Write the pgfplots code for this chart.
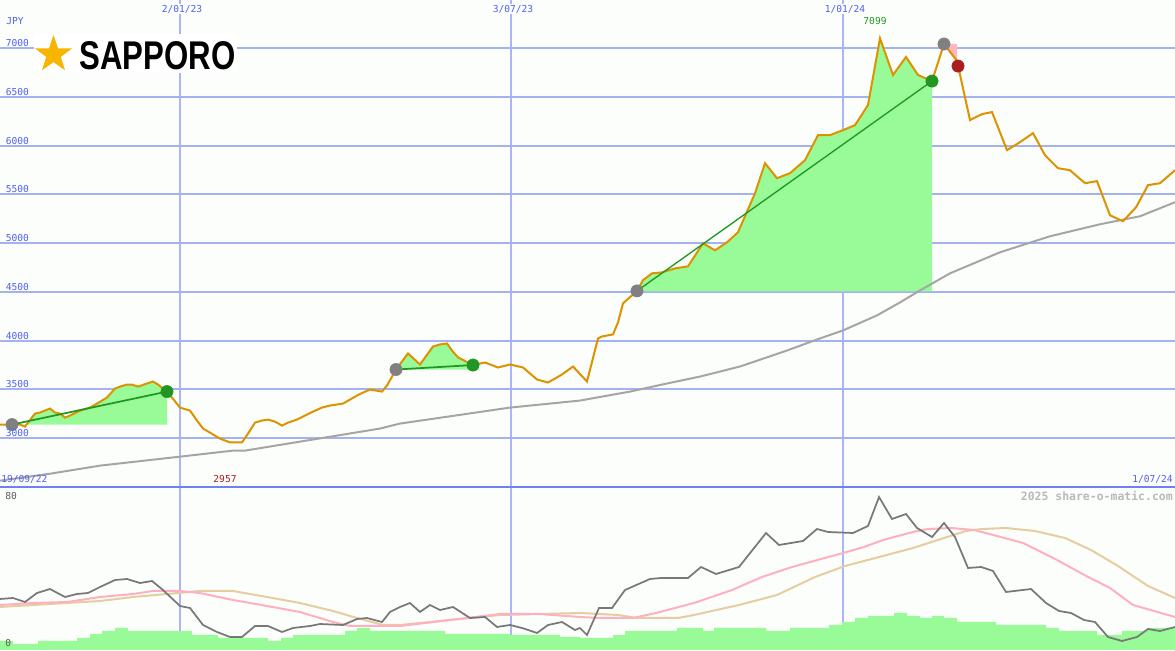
\documentclass[border=0pt]{standalone}
\usepackage{pgfplots}
\pgfplotsset{compat=1.18}
\usepackage{fontspec}
\usepackage{graphicx}
\usetikzlibrary{shapes.geometric}
\setmainfont{DejaVu Sans}
\newfontfamily\pix{DejaVu Sans Mono}
\newfontfamily\logofont{Liberation Sans}
\definecolor{pricec}{RGB}{221,146,0}
\definecolor{mac}{RGB}{165,165,165}
\definecolor{gainfill}{RGB}{152,251,152}
\definecolor{trendc}{RGB}{34,150,34}
\definecolor{dotgrey}{RGB}{128,128,128}
\definecolor{dotgreen}{RGB}{34,150,34}
\definecolor{dotred}{RGB}{170,30,30}
\definecolor{lossfill}{RGB}{255,182,193}
\definecolor{hgrid}{RGB}{165,178,240}
\definecolor{vgrid}{RGB}{170,182,248}
\definecolor{sepc}{RGB}{112,128,240}
\definecolor{labblue}{RGB}{80,96,240}
\definecolor{oscgrey}{RGB}{120,120,120}
\definecolor{oscpink}{RGB}{255,176,192}
\definecolor{osctan}{RGB}{230,205,160}
\definecolor{bgc}{RGB}{252,254,252}
\definecolor{gold}{RGB}{247,181,0}
\newcommand{\tf}{\pix\fontsize{7.2}{8}\selectfont}
\begin{document}
\begin{tikzpicture}
% ---------------- upper price panel ----------------
\begin{axis}[
  at={(0pt,122.25pt)}, anchor=south west, scale only axis,
  width=881.25pt, height=365.25pt,
  xmin=0, xmax=1175, ymin=2500, ymax=7492,
  axis line style={draw=none},
  axis background/.style={fill=bgc},
  xtick={180,511,843}, ytick={3000,3500,...,7000},
  xticklabels={}, yticklabels={},
  tick style={draw=none},
  grid=major,
  x grid style={vgrid, line width=1pt},
  y grid style={hgrid, line width=1.5pt},
]
% gain / loss areas
\addplot[fill=gainfill, draw=none] coordinates {(12,3140)(20,3140)(25,3119)(35,3253)(40,3263)(50,3304)(55,3263)(60,3253)(65,3211)(70,3232)(80,3283)(90,3314)(97,3355)(107,3417)(115,3509)(120,3529)(127,3550)(132,3550)(138,3529)(147,3561)(153,3581)(158,3550)(167,3478)(167,3140)};
\addplot[fill=gainfill, draw=none] coordinates {(396,3704)(408,3869)(420,3756)(433,3940)(440,3961)(447,3971)(452,3899)(458,3828)(473,3750)(473,3704)};
\addplot[fill=gainfill, draw=none] coordinates {(637,4505)(643,4620)(652,4690)(662,4700)(675,4741)(688,4762)(703,4998)(715,4926)(727,5008)(738,5111)(755,5511)(765,5819)(777,5665)(790,5717)(805,5850)(818,6107)(830,6107)(843,6158)(855,6209)(868,6415)(880,7099)(893,6723)(906,6908)(918,6723)(932,6661)(932,4505)};
\addplot[fill=lossfill, draw=none] coordinates {(944,7041)(957,6867)(957,7041)};
% long moving average
\addplot[mac, line width=1.5pt] coordinates {(0,2565)(50,2636)(100,2719)(180,2811)(233,2873)(245,2873)(300,2965)(380,3099)(400,3150)(510,3314)(580,3386)(630,3478)(667,3561)(700,3632)(740,3735)(787,3899)(817,4012)(843,4105)(877,4259)(900,4392)(920,4515)(950,4690)(1000,4906)(1050,5070)(1100,5193)(1140,5275)(1175,5419)};
% entry dots
\addplot[dotgrey, only marks, mark=*, mark size=4.6pt, mark options={fill=dotgrey, draw=dotgrey}] coordinates {(12,3140)(396,3704)(637,4510)(944,7041)};
% price
\addplot[pricec, line width=1.5pt] coordinates {(0,3140)(20,3140)(25,3119)(35,3253)(40,3263)(50,3304)(55,3263)(60,3253)(65,3211)(70,3232)(80,3283)(90,3314)(97,3355)(107,3417)(115,3509)(120,3529)(127,3550)(132,3550)(138,3529)(147,3561)(153,3581)(158,3550)(167,3478)(172,3417)(180,3314)(190,3283)(197,3181)(203,3099)(210,3057)(220,2996)(230,2957)(242,2957)(248,3047)(255,3160)(262,3181)(268,3191)(275,3170)(282,3129)(288,3160)(297,3191)(305,3232)(313,3273)(322,3314)(330,3335)(343,3355)(350,3396)(357,3437)(363,3468)(370,3499)(382,3478)(387,3540)(396,3704)(408,3869)(420,3756)(433,3940)(440,3961)(447,3971)(452,3899)(458,3828)(473,3750)(485,3776)(498,3725)(510,3756)(523,3725)(537,3602)(548,3571)(562,3653)(573,3735)(587,3581)(598,4023)(602,4043)(613,4064)(618,4187)(623,4382)(637,4510)(643,4620)(652,4690)(662,4700)(675,4741)(688,4762)(703,4998)(715,4926)(727,5008)(738,5111)(755,5511)(765,5819)(777,5665)(790,5717)(805,5850)(818,6107)(830,6107)(843,6158)(855,6209)(868,6415)(880,7099)(893,6723)(906,6908)(918,6723)(932,6661)(944,7041)(957,6867)(970,6261)(982,6322)(992,6343)(1007,5953)(1020,6035)(1033,6127)(1045,5901)(1058,5768)(1070,5747)(1085,5614)(1097,5635)(1110,5285)(1123,5224)(1136,5367)(1148,5594)(1160,5614)(1175,5747)};
% trend lines
\addplot[trendc, line width=1.3pt] coordinates {(12,3140)(167,3478)};
\addplot[trendc, line width=1.3pt] coordinates {(396,3704)(473,3750)};
\addplot[trendc, line width=1.0pt] coordinates {(637,4510)(932,6661)};
% exit dots
\addplot[dotgreen, only marks, mark=*, mark size=4.6pt, mark options={fill=dotgreen, draw=dotgreen}] coordinates {(167,3478)(473,3750)(932,6661)};
\addplot[dotred, only marks, mark=*, mark size=4.6pt, mark options={fill=dotred, draw=dotred}] coordinates {(958,6815)};
\end{axis}
% ---------------- lower oscillator panel ----------------
\begin{axis}[
  at={(0pt,0pt)}, anchor=south west, scale only axis,
  width=881.25pt, height=122.25pt,
  xmin=0, xmax=1175, ymin=0, ymax=163,
  axis line style={draw=none},
  axis background/.style={fill=bgc},
  xtick={180,511,843}, ytick=\empty, xticklabels={},
  tick style={draw=none},
  xmajorgrids,
  x grid style={vgrid, line width=1pt},
]
\addplot[const plot, fill=gainfill, draw=none] coordinates {(0,9)(13,6)(38,9)(77,12)(90,16)(102,19)(115,22)(128,19)(192,15)(218,12)(268,9)(281,12)(293,15)(345,19)(357,22)(370,19)(400,19)(445,16)(470,16)(510,15)(560,13)(580,12)(613,15)(625,19)(677,22)(703,19)(714,22)(766,19)(790,22)(829,25)(842,28)(855,32)(868,34)(894,37)(907,34)(920,32)(932,34)(944,32)(957,28)(996,25)(1046,22)(1059,19)(1097,15)(1122,19)(1148,22)(1175,22)} \closedcycle;
\addplot[osctan, line width=1.5pt] coordinates {(0,43)(33,45)(67,47)(100,49)(133,53)(167,56)(200,59)(233,59)(267,53)(300,47)(333,39)(357,32)(383,25)(400,25)(450,30)(500,35)(540,36)(580,37)(618,35)(637,32)(678,32)(694,35)(739,45)(777,55)(815,73)(845,84)(883,94)(913,102)(944,112)(966,119)(982,121)(1006,122)(1035,119)(1065,112)(1091,100)(1118,84)(1148,64)(1175,52)};
\addplot[oscpink, line width=1.5pt] coordinates {(0,45)(33,47)(67,48)(100,53)(133,56)(153,59)(180,59)(200,57)(233,50)(267,44)(300,38)(333,28)(350,24)(400,24)(450,30)(500,36)(540,36)(580,33)(599,32)(633,32)(656,37)(694,47)(732,60)(762,73)(792,83)(843,97)(864,103)(883,110)(913,118)(928,121)(951,122)(974,120)(997,114)(1023,107)(1057,90)(1088,73)(1110,62)(1133,45)(1175,33)};
\addplot[oscgrey, line width=1.3pt] coordinates {(0,51)(13,52)(25,48)(37,57)(50,61)(65,53)(77,56)(88,57)(100,63)(115,70)(127,71)(140,67)(152,69)(163,60)(180,44)(190,42)(203,25)(217,18)(230,13)(242,13)(255,24)(268,24)(282,18)(293,22)(310,24)(320,26)(343,25)(357,31)(367,32)(382,28)(390,38)(400,43)(410,47)(420,38)(430,45)(440,40)(453,43)(470,32)(485,33)(497,23)(510,25)(522,22)(537,17)(548,25)(562,28)(575,20)(580,22)(587,15)(599,42)(612,42)(625,60)(650,71)(661,72)(688,72)(701,83)(716,76)(739,83)(766,117)(779,105)(803,109)(817,121)(828,118)(853,117)(868,124)(879,153)(892,131)(906,136)(917,122)(932,113)(944,127)(955,113)(968,82)(981,83)(993,79)(1006,58)(1031,61)(1046,47)(1059,39)(1071,37)(1084,30)(1095,28)(1108,13)(1122,9)(1137,13)(1148,21)(1160,19)(1175,23)};
\end{axis}
% ---------------- texts and decorations (pixel frame) ----------------
\begin{scope}[yshift=487.5pt, x=0.75pt, y=-0.75pt]
\draw[sepc, line width=1.5pt] (0,487) -- (1175,487);
\node[fill=bgc, inner sep=1pt, text=labblue, font=\tf] at (182,9) {2/01/23};
\node[fill=bgc, inner sep=1pt, text=labblue, font=\tf] at (513,9) {3/07/23};
\node[fill=bgc, inner sep=1pt, text=labblue, font=\tf] at (845,9) {1/01/24};
\node[anchor=west, inner sep=0pt, text=labblue, font=\tf] at (6,21.5) {JPY};
\foreach \v/\p in {7000/43,6500/92,6000/141,5500/189,5000/238,4500/287,4000/336,3500/384,3000/433}
  \node[anchor=west, inner sep=0pt, text=labblue, font=\tf] at (5.5,\p) {\v};
\node[inner sep=0pt, text=dotgreen, font=\tf] at (875,21) {7099};
\node[inner sep=0pt, text=dotred, font=\tf] at (225,479) {2957};
\node[anchor=west, inner sep=0pt, text=labblue, font=\tf] at (1,479) {19/09/22};
\node[anchor=east, inner sep=0pt, text=labblue, font=\tf] at (1173,479) {1/07/24};
\node[anchor=east, inner sep=0pt, text={rgb,255:red,185;green,185;blue,185}, font=\pix\bfseries\fontsize{8.6}{9}\selectfont] at (1173,496) {2025 share-o-matic.com};
\node[anchor=west, inner sep=0pt, text={rgb,255:red,90;green,90;blue,90}, font=\tf] at (5,496) {80};
\node[anchor=west, inner sep=0pt, text={rgb,255:red,90;green,90;blue,90}, font=\tf] at (5,643) {0};
% logo
\fill[white] (34,34) rectangle (237,73);
\node[star, star points=5, star point ratio=2.55, fill=gold, draw=none, inner sep=0pt, minimum size=29.2pt] at (53.5,54.5) {};
\node[anchor=west, inner sep=0pt] at (79,56) {\resizebox{117pt}{21pt}{\logofont\bfseries SAPPORO}};
\end{scope}
\pgfresetboundingbox
\path[use as bounding box] (0,0) rectangle (881.25pt,487.5pt);
\end{tikzpicture}
\end{document}
